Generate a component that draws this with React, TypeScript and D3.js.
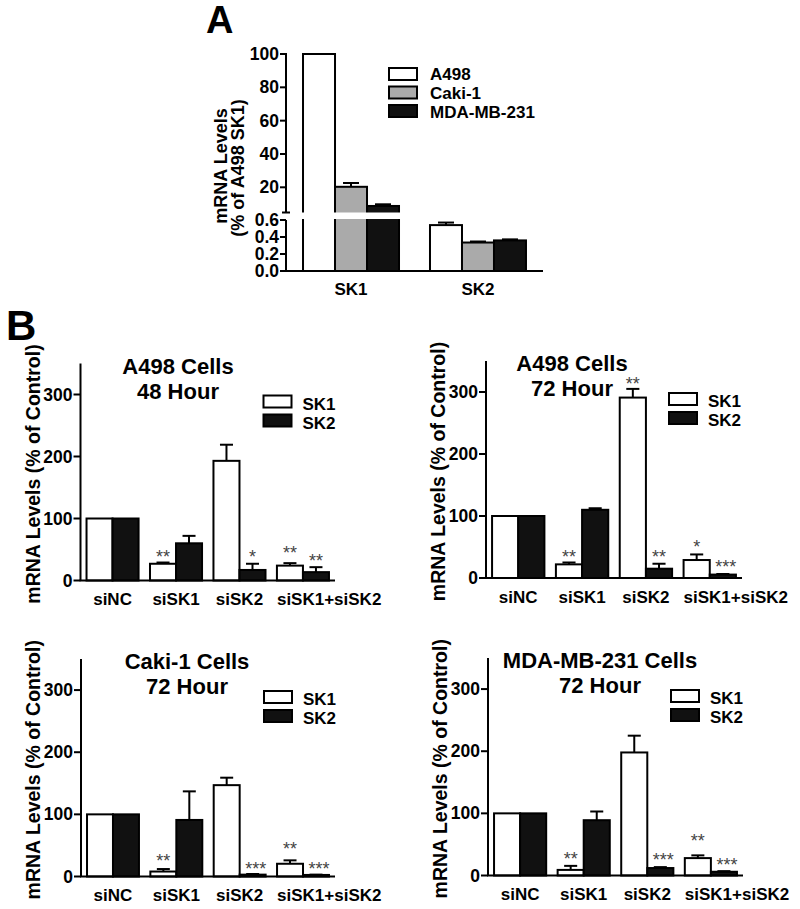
import React from 'react';
import * as d3 from 'd3';

const FONT = '"Liberation Sans", Arial, Helvetica, sans-serif';

// ---------- Panel A data ----------
const geneCats = ['SK1', 'SK2'];
const cellLines = ['A498', 'Caki-1', 'MDA-MB-231'];
const a498Levels = [100, 0.54];
const caki1Levels = [20.3, 0.335];
const mdaLevels = [8.8, 0.36];
const a498Err = [0, 0.03];
const caki1Err = [2.3, 0.012];
const mdaErr = [1.0, 0.012];
const upperTicks = [20, 40, 60, 80, 100];
const lowerTicks = [0, 0.2, 0.4, 0.6];
const lowerTickLabels = ['0.0', '0.2', '0.4', '0.6'];

// ---------- Panel B data ----------
const treatments = ['siNC', 'siSK1', 'siSK2', 'siSK1+siSK2'];
const genes = ['SK1', 'SK2'];
const bTicks = [0, 100, 200, 300];

const a498h48SK1 = [100, 27, 193, 24];
const a498h48SK1Err = [0, 2, 26, 4];
const a498h48SK2 = [100, 60, 17, 13.5];
const a498h48SK2Err = [0, 12, 10, 8];
const a498h48Stars = [
  { t: 1, g: 0, s: '**', y: 45 },
  { t: 2, g: 1, s: '*', y: 45 },
  { t: 3, g: 0, s: '**', y: 50.5 },
  { t: 3, g: 1, s: '**', y: 38 },
];

const a498h72SK1 = [100, 22, 291, 29];
const a498h72SK1Err = [0, 3, 14, 9];
const a498h72SK2 = [100, 110, 15, 5.5];
const a498h72SK2Err = [0, 2.5, 8, 1];
const a498h72Stars = [
  { t: 1, g: 0, s: '**', y: 40 },
  { t: 2, g: 0, s: '**', y: 319 },
  { t: 2, g: 1, s: '**', y: 40 },
  { t: 3, g: 0, s: '*', y: 56 },
  { t: 3, g: 1, s: '***', y: 24 },
];

const caki1SK1 = [100, 8, 147, 20.5];
const caki1SK1Err = [0, 4, 12, 5.5];
const caki1SK2 = [100, 91, 3, 2.5];
const caki1SK2Err = [0, 46, 1, 0.5];
const caki1Stars = [
  { t: 1, g: 0, s: '**', y: 32 },
  { t: 2, g: 1, s: '***', y: 19 },
  { t: 3, g: 0, s: '**', y: 51 },
  { t: 3, g: 1, s: '***', y: 19 },
];

const mdaSK1 = [100, 9, 198, 28];
const mdaSK1Err = [0, 6.5, 27, 4.4];
const mdaSK2 = [100, 89, 12, 6];
const mdaSK2Err = [0, 14, 1.5, 1];
const mdaStars = [
  { t: 1, g: 0, s: '**', y: 33 },
  { t: 2, g: 1, s: '***', y: 32 },
  { t: 3, g: 0, s: '**', y: 62 },
  { t: 3, g: 1, s: '***', y: 24 },
];

const BLACK = '#111';
const GRAY = '#aaaaaa';

function PanelA() {
  const ax = 286;
  const xEnd = 543;
  const y0 = 271;
  const breakTop = 212.5;
  const breakBottom = 220;
  const yUpper = d3.scaleLinear().domain([5, 100]).range([212.3, 54]);
  const yLower = d3.scaleLinear().domain([0, 0.6]).range([y0, breakBottom]);
  const yv = (v: number) => (v > 0.6 ? yUpper(v) : yLower(v));
  const x = d3.scaleBand().domain(geneCats).range([ax, xEnd]).paddingInner(0.244).paddingOuter(0.134);
  const xs = d3.scaleBand().domain(cellLines).range([0, x.bandwidth()]);
  const series = [
    { name: cellLines[0], vals: a498Levels, errs: a498Err, fill: '#fff' },
    { name: cellLines[1], vals: caki1Levels, errs: caki1Err, fill: GRAY },
    { name: cellLines[2], vals: mdaLevels, errs: mdaErr, fill: BLACK },
  ];
  const fs = 17;
  return (
    <g fontFamily={FONT} fontWeight="bold">
      <text x={206} y={33} fontSize={38}>A</text>
      {series.map((s) =>
        geneCats.map((c, i) => {
          const bx = (x(c) as number) + (xs(s.name) as number);
          const w = xs.bandwidth();
          const top = yv(s.vals[i]);
          const etop = yv(s.vals[i] + s.errs[i]);
          const cx = bx + w / 2;
          return (
            <g key={s.name + c}>
              <rect x={bx} y={top} width={w} height={y0 - top} fill={s.fill} stroke="#000" strokeWidth={2} />
              {s.errs[i] > 0 && (
                <g stroke="#000" strokeWidth={2}>
                  <line x1={cx} x2={cx} y1={top} y2={etop} />
                  <line x1={cx - w / 4} x2={cx + w / 4} y1={etop} y2={etop} />
                </g>
              )}
            </g>
          );
        })
      )}
      {/* axis break gap */}
      <rect x={ax + 2} y={breakTop} width={xEnd - ax} height={breakBottom - breakTop - 1} fill="#fff" />
      <g stroke="#000" strokeWidth={2}>
        <line x1={ax} x2={ax} y1={53} y2={breakTop} />
        <line x1={ax - 4} x2={ax + 4} y1={breakTop} y2={breakTop} />
        <line x1={ax} x2={ax} y1={breakBottom} y2={y0} />
        <line x1={ax - 1} x2={xEnd} y1={y0} y2={y0} />
        {upperTicks.map((t) => (
          <line key={'u' + t} x1={ax - 6} x2={ax} y1={yUpper(t)} y2={yUpper(t)} />
        ))}
        {lowerTicks.map((t) => (
          <line key={'l' + t} x1={ax - 6} x2={ax} y1={yLower(t)} y2={yLower(t)} />
        ))}
      </g>
      {upperTicks.map((t) => (
        <text key={'ut' + t} x={ax - 7} y={yUpper(t) + 6} fontSize={fs + 0.5} textAnchor="end">{t}</text>
      ))}
      {lowerTicks.map((t, i) => (
        <text key={'lt' + t} x={ax - 7} y={yLower(t) + 6} fontSize={fs + 0.5} textAnchor="end">{lowerTickLabels[i]}</text>
      ))}
      {geneCats.map((c) => (
        <text key={'c' + c} x={(x(c) as number) + x.bandwidth() / 2} y={y0 + 24} fontSize={fs} textAnchor="middle">{c}</text>
      ))}
      <g transform={`translate(227,166) rotate(-90)`}>
        <text x={0} y={0} fontSize={18} textAnchor="middle">mRNA Levels</text>
      </g>
      <g transform={`translate(244,168) rotate(-90)`}>
        <text x={0} y={0} fontSize={18} textAnchor="middle">(% of A498 SK1)</text>
      </g>
      {series.map((s, i) => (
        <g key={'lg' + s.name}>
          <rect x={389} y={68 + i * 18.5} width={28} height={12} fill={s.fill} stroke="#000" strokeWidth={2} />
          <text x={430} y={80 + i * 18.8} fontSize={fs}>{s.name}</text>
        </g>
      ))}
    </g>
  );
}

type Star = { t: number; g: number; s: string; y: number };

function PanelB(props: {
  ax: number; xEnd: number; yTop: number; y0: number;
  title: string[]; titleX: number;
  sk1: number[]; sk1e: number[]; sk2: number[]; sk2e: number[];
  stars: Star[];
}) {
  const { ax, xEnd, yTop, y0, title, titleX, sk1, sk1e, sk2, sk2e, stars } = props;
  const y = d3.scaleLinear().domain([0, 350]).range([y0, yTop]);
  const x = d3.scaleBand().domain(treatments).range([ax, xEnd]).paddingInner(0.18).paddingOuter(0.095);
  const xs = d3.scaleBand().domain(genes).range([0, x.bandwidth()]);
  const w = xs.bandwidth();
  const series = [
    { name: genes[0], vals: sk1, errs: sk1e, fill: '#fff' },
    { name: genes[1], vals: sk2, errs: sk2e, fill: BLACK },
  ];
  const fs = 17;
  return (
    <g fontFamily={FONT} fontWeight="bold">
      {series.map((s) =>
        treatments.map((t, i) => {
          const bx = (x(t) as number) + (xs(s.name) as number);
          const top = y(s.vals[i]);
          const etop = y(s.vals[i] + s.errs[i]);
          const cx = bx + w / 2;
          return (
            <g key={s.name + t}>
              <rect x={bx} y={top} width={w} height={y0 - top} fill={s.fill} stroke="#000" strokeWidth={2} />
              {s.errs[i] > 0 && (
                <g stroke="#000" strokeWidth={2}>
                  <line x1={cx} x2={cx} y1={top} y2={etop} />
                  <line x1={cx - w / 4} x2={cx + w / 4} y1={etop} y2={etop} />
                </g>
              )}
            </g>
          );
        })
      )}
      <g stroke="#000" strokeWidth={2}>
        <line x1={ax} x2={ax} y1={yTop} y2={y0} />
        <line x1={ax - 1} x2={xEnd} y1={y0} y2={y0} />
        {bTicks.map((t) => (
          <line key={'t' + t} x1={ax - 7} x2={ax} y1={y(t)} y2={y(t)} />
        ))}
      </g>
      {bTicks.map((t) => (
        <text key={'tl' + t} x={ax - 8} y={y(t) + 6} fontSize={fs + 0.5} textAnchor="end">{t}</text>
      ))}
      {treatments.map((t, i) => {
        const last = i === treatments.length - 1;
        return (
          <text key={'c' + t} x={last ? (x(t) as number) : (x(t) as number) + x.bandwidth() / 2}
            y={y0 + 24.5} fontSize={fs} textAnchor={last ? 'start' : 'middle'}>{t}</text>
        );
      })}
      {stars.map((s, i) => {
        const cx = (x(treatments[s.t]) as number) + (xs(genes[s.g]) as number) + w / 2 + (s.s.length === 3 ? 3 : 0);
        return (
          <text key={'s' + i} x={cx} y={y(s.y) + 10} fontSize={18} fontWeight="normal" fill="#444" textAnchor="middle">{s.s}</text>
        );
      })}
      <g transform={`translate(${ax - 41},${(yTop + y0) / 2 + 2}) rotate(-90)`}>
        <text x={0} y={0} fontSize={19.5} textAnchor="middle">mRNA Levels (% of Control)</text>
      </g>
      {title.map((line, i) => (
        <text key={'ti' + i} x={ax + titleX} y={yTop + 10 + i * 25} fontSize={22} textAnchor="middle">{line}</text>
      ))}
      {series.map((s, i) => (
        <g key={'lg' + s.name}>
          <rect x={ax + 183} y={yTop + 32 + i * 19} width={28} height={12} fill={s.fill} stroke="#000" strokeWidth={2} />
          <text x={ax + 222} y={yTop + 46 + i * 19} fontSize={fs}>{s.name}</text>
        </g>
      ))}
    </g>
  );
}

export default function App() {
  return (
    <svg width={800} height={909} style={{ position: 'absolute', left: 0, top: 0, background: '#fff' }}>
      <rect x={0} y={0} width={800} height={909} fill="#fff" />
      <PanelA />
      <text x={6} y={340} fontSize={42} fontWeight="bold" fontFamily={FONT}>B</text>
      <PanelB ax={80.5} xEnd={335} yTop={363.5} y0={580.5} title={['A498 Cells', '48 Hour']} titleX={97.5}
        sk1={a498h48SK1} sk1e={a498h48SK1Err} sk2={a498h48SK2} sk2e={a498h48SK2Err} stars={a498h48Stars} />
      <PanelB ax={486} xEnd={742} yTop={361} y0={578} title={['A498 Cells', '72 Hour']} titleX={86}
        sk1={a498h72SK1} sk1e={a498h72SK1Err} sk2={a498h72SK2} sk2e={a498h72SK2Err} stars={a498h72Stars} />
      <PanelB ax={81} xEnd={335} yTop={659} y0={876.5} title={['Caki-1 Cells', '72 Hour']} titleX={106}
        sk1={caki1SK1} sk1e={caki1SK1Err} sk2={caki1SK2} sk2e={caki1SK2Err} stars={caki1Stars} />
      <PanelB ax={488} xEnd={743} yTop={658} y0={875.5} title={['MDA-MB-231 Cells', '72 Hour']} titleX={112}
        sk1={mdaSK1} sk1e={mdaSK1Err} sk2={mdaSK2} sk2e={mdaSK2Err} stars={mdaStars} />
    </svg>
  );
}
